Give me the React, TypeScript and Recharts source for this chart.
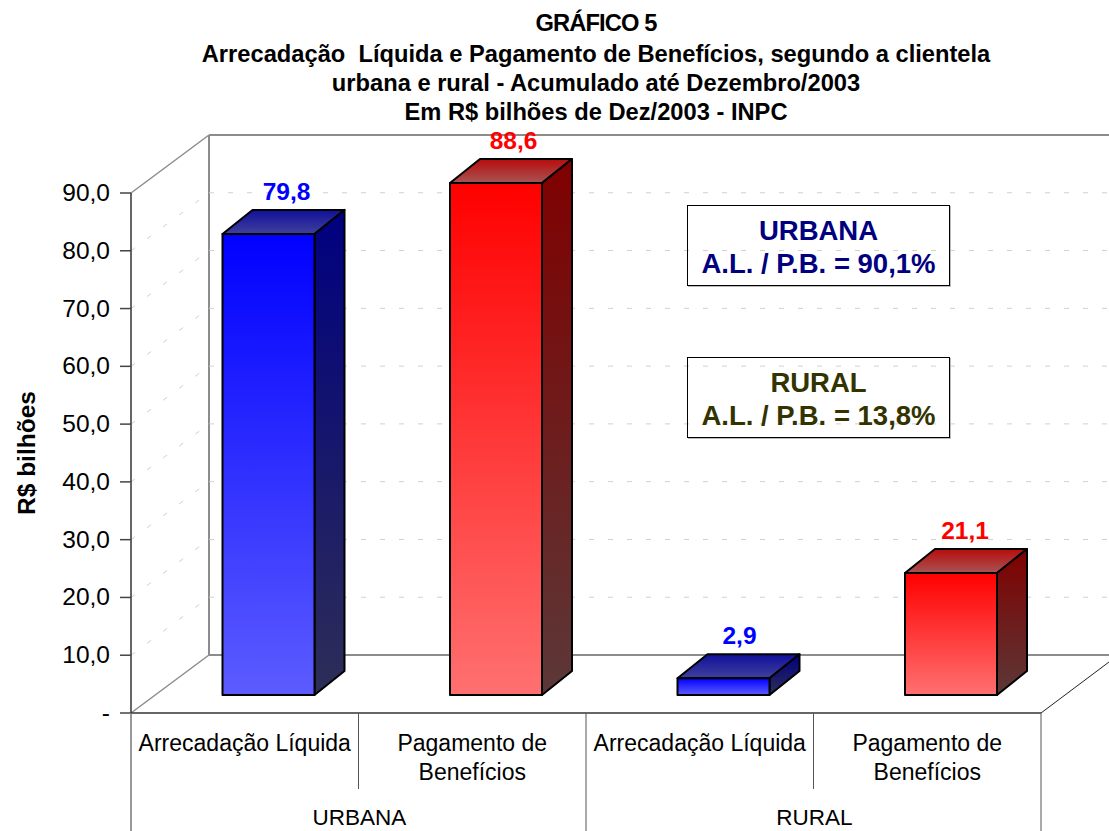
import { BarChart, Bar, XAxis, YAxis, CartesianGrid, LabelList } from "recharts";

const categories = [
  "Arrecadação Líquida",
  "Pagamento de\nBenefícios",
  "Arrecadação Líquida",
  "Pagamento de\nBenefícios",
];
const groups = ["URBANA", "URBANA", "RURAL", "RURAL"];
const values = [79.8, 88.6, 2.9, 21.1];
const valueLabels = ["79,8", "88,6", "2,9", "21,1"];
const barColors = ["blue", "red", "blue", "red"];
const yTicks = [0, 10, 20, 30, 40, 50, 60, 70, 80, 90];
const titleLines = [
  "GRÁFICO 5",
  "Arrecadação  Líquida e Pagamento de Benefícios, segundo a clientela",
  "urbana e rural - Acumulado até Dezembro/2003",
  "Em R$ bilhões de Dez/2003 - INPC",
];

const chartData = categories.map((c, i) => ({
  category: `${i}|${c}`,
  group: groups[i],
  value: values[i],
}));

const FONT = "'Liberation Sans', Arial, sans-serif";
const W = 1109;
const H = 831;
const LEFT = 131;
const RIGHT = 1041;
const TOP = 193;
const BOTTOM = 713;
const WALL_DX = 78;
const WALL_DY = 58;
const BAND = (RIGHT - LEFT) / 4;

// bars sit halfway into the floor depth
const BAR_DX = 23.5;
const BAR_DY = -18;
const DEPTH_X = 30;
const DEPTH_Y = 24;
const LABEL_SHIFT = [18, 17.5, 16, 14];

function Bar3D(props: any) {
  const { x, y, width, height, index } = props;
  const c = barColors[index];
  const x0 = x + BAR_DX;
  const y0 = y + BAR_DY;
  const x1 = x0 + width;
  const y1 = y0 + height;
  const line = { stroke: "#000", strokeWidth: 2, strokeLinejoin: "round" as const };
  return (
    <g>
      <polygon
        points={`${x0},${y0} ${x0 + DEPTH_X},${y0 - DEPTH_Y} ${x1 + DEPTH_X},${y0 - DEPTH_Y} ${x1},${y0}`}
        fill={`url(#${c}Top)`}
        {...line}
      />
      <polygon
        points={`${x1},${y0} ${x1 + DEPTH_X},${y0 - DEPTH_Y} ${x1 + DEPTH_X},${y1 - DEPTH_Y} ${x1},${y1}`}
        fill={`url(#${c}Side)`}
        {...line}
      />
      <rect x={x0} y={y0} width={width} height={height} fill={`url(#${c}Front)`} {...line} />
    </g>
  );
}

function ValueLabel(props: any) {
  const { x, y, width, index } = props;
  return (
    <text
      x={x + BAR_DX + width / 2 + LABEL_SHIFT[index]}
      y={y + BAR_DY - 34}
      textAnchor="middle"
      fontFamily={FONT}
      fontSize={24.5}
      fontWeight="bold"
      fill={barColors[index] === "blue" ? "#0000ff" : "#ff0000"}
    >
      {valueLabels[index]}
    </text>
  );
}

// each grid line is drawn across both walls so it stays behind the bars
function WallLine(props: any) {
  const y = props.y1;
  const backY = y - WALL_DY;
  const isTop = Math.abs(y - TOP) < 1;
  const isFloor = Math.abs(y - BOTTOM) < 1;
  if (isTop || isFloor) {
    return (
      <g key={props.key}>
        <line x1={LEFT} y1={y} x2={LEFT + WALL_DX} y2={backY} stroke="#8c8c8c" strokeWidth={1.5} />
        <line x1={LEFT + WALL_DX} y1={backY} x2={W} y2={backY} stroke="#8c8c8c" strokeWidth={2} />
        {isFloor && (
          <>
            <line
              x1={LEFT + WALL_DX}
              y1={backY}
              x2={LEFT + WALL_DX}
              y2={TOP - WALL_DY}
              stroke="#8c8c8c"
              strokeWidth={2}
            />
            <line x1={RIGHT} y1={y} x2={W} y2={y - 51} stroke="#222" />
          </>
        )}
      </g>
    );
  }
  return (
    <g key={props.key}>
      <line
        x1={LEFT}
        y1={y}
        x2={LEFT + WALL_DX}
        y2={backY}
        stroke="#d0d0d0"
        strokeDasharray="5 15"
      />
      <line x1={LEFT + WALL_DX} y1={backY} x2={W} y2={backY} stroke="#d0d0d0" strokeDasharray="5 14" />
    </g>
  );
}

function YTick(props: any) {
  const { y, payload } = props;
  const v = payload.value;
  return (
    <g>
      <line x1={LEFT - 11} y1={y} x2={LEFT} y2={y} stroke="#444" strokeWidth={1.5} />
      <text x={LEFT - 21} y={y + 8} textAnchor="end" fontFamily={FONT} fontSize={24.5} fill="#000">
        {v === 0 ? "-" : v.toFixed(1).replace(".", ",")}
      </text>
    </g>
  );
}

function CategoryTick(props: any) {
  const { x, payload, index } = props;
  const lines = String(payload.value).split("|")[1].split("\n");
  return (
    <g>
      <line x1={x + BAND / 2} y1={BOTTOM} x2={x + BAND / 2} y2={index % 2 ? H : 789} stroke="#555" />
      {lines.map((l, i) => (
        <text
          key={l}
          x={x}
          y={BOTTOM + 38 + i * 29}
          textAnchor="middle"
          fontFamily={FONT}
          fontSize={23}
          fill="#000"
        >
          {l}
        </text>
      ))}
    </g>
  );
}

function GroupTick(props: any) {
  const { x, payload } = props;
  return (
    <text x={x + 1} y={825} textAnchor="middle" fontFamily={FONT} fontSize={22.5} fill="#000">
      {payload.value}
    </text>
  );
}

function Grad({ id, from, to }: { id: string; from: string; to: string }) {
  return (
    <linearGradient id={id} x1="0" y1="0" x2="0" y2="1">
      <stop offset="0%" stopColor={from} />
      <stop offset="100%" stopColor={to} />
    </linearGradient>
  );
}

function NoteBox({ top, color, lines }: { top: number; color: string; lines: string[] }) {
  return (
    <div
      style={{
        position: "absolute",
        left: 687,
        top,
        width: 263,
        height: 81,
        border: "1px solid #000",
        boxShadow: "1px 1px 0 #bbb",
        color,
        fontFamily: FONT,
        fontWeight: "bold",
        fontSize: 27.5,
        lineHeight: "33px",
        textAlign: "center",
        paddingTop: 8,
        boxSizing: "border-box",
        whiteSpace: "nowrap",
      }}
    >
      {lines.map((l) => (
        <div key={l}>{l}</div>
      ))}
    </div>
  );
}

export default function App() {
  return (
    <div style={{ position: "absolute", left: 0, top: 0, width: W, height: H, overflow: "hidden", background: "#fff" }}>
      <BarChart
        width={W}
        height={H}
        data={chartData}
        margin={{ top: TOP, right: W - RIGHT, bottom: 0, left: 0 }}
        barSize={92}
      >
        <defs>
          <Grad id="blueFront" from="#0000ff" to="#5c5cff" />
          <Grad id="blueSide" from="#000080" to="#2e2e58" />
          <Grad id="blueTop" from="#10109c" to="#40409c" />
          <Grad id="redFront" from="#ff0000" to="#ff7070" />
          <Grad id="redSide" from="#800000" to="#5c3838" />
          <Grad id="redTop" from="#b80c0c" to="#a85454" />
        </defs>
        <CartesianGrid xAxisId="cat" vertical={false} horizontal={WallLine} />
        <YAxis
          width={LEFT}
          domain={[0, 90]}
          ticks={yTicks}
          interval={0}
          tick={YTick}
          tickLine={false}
          axisLine={{ stroke: "#333", strokeWidth: 1.5 }}
          label={{
            value: "R$ bilhões",
            angle: -90,
            position: "insideLeft",
            offset: 0,
            dx: 26,
            dy: 62,
            style: { fontFamily: FONT, fontSize: 24.5, fontWeight: "bold", fill: "#000" },
          }}
        />
        <XAxis
          xAxisId="cat"
          dataKey="category"
          interval={0}
          height={76}
          tick={CategoryTick}
          tickLine={false}
          axisLine={{ stroke: "#333", strokeWidth: 1.5 }}
        />
        <XAxis
          xAxisId="group"
          dataKey="group"
          allowDuplicatedCategory={false}
          interval={0}
          height={42}
          tick={GroupTick}
          tickLine={false}
          axisLine={false}
        />
        <Bar xAxisId="cat" dataKey="value" shape={Bar3D} isAnimationActive={false}>
          <LabelList dataKey="value" content={ValueLabel} />
        </Bar>
      </BarChart>
      <svg width={W} height={H} style={{ position: "absolute", left: 0, top: 0, pointerEvents: "none" }}>
        <line x1={LEFT} y1={BOTTOM} x2={LEFT} y2={H} stroke="#777" strokeWidth={1.5} />
      </svg>
      {titleLines.map((l, i) => (
        <div
          key={l}
          style={{
            position: "absolute",
            left: 0,
            width: 1192,
            top: [10, 41, 70, 99][i],
            textAlign: "center",
            fontFamily: FONT,
            fontWeight: "bold",
            fontSize: 23.7,
            letterSpacing: i === 0 ? -0.9 : 0,
            lineHeight: "26px",
            whiteSpace: "pre",
            color: "#000",
          }}
        >
          {l}
        </div>
      ))}
      <NoteBox top={205} color="#000080" lines={["URBANA", "A.L. / P.B. = 90,1%"]} />
      <NoteBox top={357} color="#333300" lines={["RURAL", "A.L. / P.B. = 13,8%"]} />
    </div>
  );
}
